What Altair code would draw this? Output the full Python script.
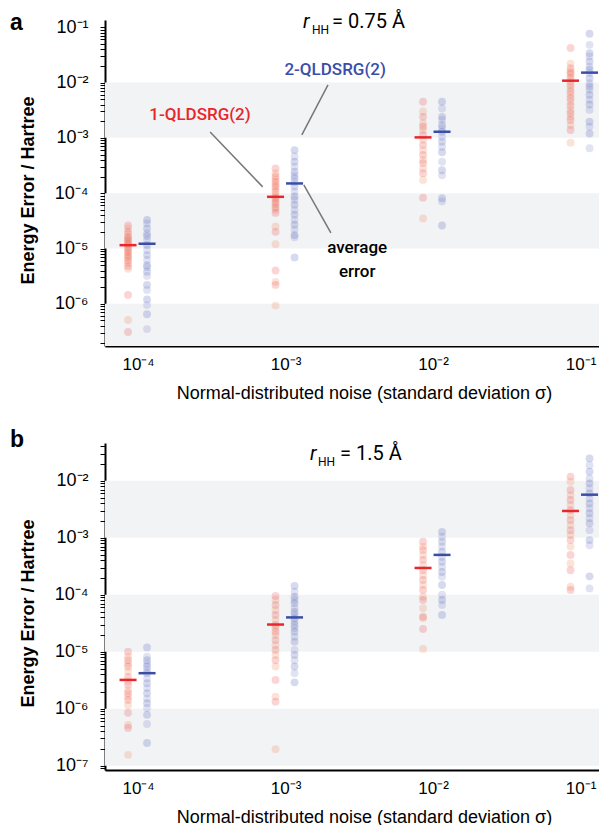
import altair as alt
import pandas as pd

# ---------------- data ----------------
SIGMA = [1e-4, 1e-3, 1e-2, 1e-1]

# panel a (r_HH = 0.75 A): individual errors per noise level
A_RED = [
    [2.6e-5, 2.3e-5, 2.0e-5, 1.8e-5, 1.6e-5, 1.5e-5, 1.4e-5, 1.3e-5, 1.2e-5, 1.1e-5, 1.0e-5,
     9.2e-6, 8.5e-6, 7.8e-6, 7.2e-6, 6.6e-6, 6.0e-6, 5.4e-6, 4.8e-6, 4.3e-6, 1.45e-6, 5.1e-7, 3.1e-7],
    [2.8e-4, 2.3e-4, 2.0e-4, 1.8e-4, 1.62e-4, 1.45e-4, 1.32e-4, 1.2e-4, 1.06e-4, 9.3e-5, 8.3e-5,
     7.6e-5, 6.8e-5, 6.2e-5, 5.5e-5, 5.0e-5, 4.4e-5, 2.5e-5, 2.0e-5, 1.2e-5, 4.0e-6, 2.5e-6, 2.2e-6, 9.3e-7],
    [4.5e-3, 3.0e-3, 2.4e-3, 1.84e-3, 1.6e-3, 1.39e-3, 1.13e-3, 9.2e-4, 7.4e-4, 6.0e-4, 4.9e-4,
     4.0e-4, 3.5e-4, 2.8e-4, 2.3e-4, 1.74e-4, 8.3e-5, 3.5e-5],
    [4.2e-2, 2.2e-2, 1.82e-2, 1.6e-2, 1.48e-2, 1.35e-2, 1.2e-2, 1.05e-2, 9.1e-3, 8.0e-3, 6.9e-3,
     6.0e-3, 5.2e-3, 4.5e-3, 3.8e-3, 3.2e-3, 2.8e-3, 2.4e-3, 2.1e-3, 1.7e-3, 1.39e-3, 8.2e-4],
]
A_BLUE = [
    [3.27e-5, 2.85e-5, 2.3e-5, 1.88e-5, 1.68e-5, 1.43e-5, 1.16e-5, 9.4e-6, 7.6e-6, 6.2e-6, 5.0e-6,
     4.6e-6, 3.8e-6, 3.2e-6, 2.2e-6, 1.78e-6, 1.2e-6, 9.5e-7, 6.5e-7, 3.5e-7],
    [6.0e-4, 4.6e-4, 3.7e-4, 3.0e-4, 2.45e-4, 2.1e-4, 1.86e-4, 1.6e-4, 1.32e-4, 1.07e-4, 8.7e-5,
     7.6e-5, 6.2e-5, 5.0e-5, 4.1e-5, 3.3e-5, 2.7e-5, 2.2e-5, 1.75e-5, 1.6e-5, 6.9e-6],
    [4.5e-3, 3.4e-3, 2.4e-3, 2.1e-3, 1.71e-3, 1.5e-3, 1.29e-3, 1.05e-3, 8.5e-4, 6.9e-4, 5.5e-4,
     3.7e-4, 2.6e-4, 2.1e-4, 8.1e-5, 7.1e-5, 2.6e-5],
    [7.6e-2, 4.8e-2, 3.4e-2, 2.95e-2, 2.4e-2, 1.94e-2, 1.7e-2, 1.48e-2, 1.2e-2, 9.7e-3, 8.5e-3,
     7.4e-3, 6.0e-3, 4.9e-3, 4.0e-3, 3.2e-3, 1.96e-3, 1.6e-3, 1.2e-3, 6.5e-4],
]
A_RED_AVG = [1.15e-5, 8.6e-5, 1.02e-3, 1.08e-2]
A_BLUE_AVG = [1.22e-5, 1.5e-4, 1.29e-3, 1.51e-2]

# panel b (r_HH = 1.5 A)
B_RED = [
    [1.0e-5, 8.2e-6, 7.1e-6, 6.2e-6, 5.5e-6, 4.5e-6, 3.6e-6, 3.0e-6, 2.6e-6, 2.1e-6, 1.87e-6,
     1.63e-6, 1.42e-6, 1.16e-6, 8.5e-7, 5.2e-7, 4.6e-7, 1.55e-7],
    [9.5e-5, 8.1e-5, 6.6e-5, 5.4e-5, 4.4e-5, 3.6e-5, 2.95e-5, 2.6e-5, 2.25e-5, 1.96e-5, 1.6e-5,
     1.31e-5, 1.07e-5, 8.8e-6, 7.1e-6, 5.5e-6, 3.2e-6, 1.63e-6, 1.33e-6, 1.95e-7],
    [8.5e-4, 7.0e-4, 6.1e-4, 5.0e-4, 4.1e-4, 3.3e-4, 2.7e-4, 2.2e-4, 1.81e-4, 1.48e-4, 1.21e-4,
     9.2e-5, 8.1e-5, 5.8e-5, 4.1e-5, 3.9e-5, 2.5e-5, 1.12e-5],
    [1.18e-2, 9.6e-3, 6.9e-3, 5.6e-3, 4.6e-3, 3.75e-3, 3.06e-3, 2.5e-3, 2.04e-3, 1.67e-3, 1.36e-3,
     1.12e-3, 9.1e-4, 7.0e-4, 5.0e-4, 3.55e-4, 2.7e-4, 1.38e-4, 1.21e-4],
]
B_BLUE = [
    [1.19e-5, 8.2e-6, 7.1e-6, 6.2e-6, 5.5e-6, 4.8e-6, 4.2e-6, 3.4e-6, 2.8e-6, 2.3e-6, 1.87e-6,
     1.5e-6, 1.25e-6, 1.03e-6, 7.8e-7, 5.4e-7, 2.5e-7],
    [1.42e-4, 1.13e-4, 9.2e-5, 8.1e-5, 7.1e-5, 5.8e-5, 5.0e-5, 4.4e-5, 3.85e-5, 3.4e-5, 2.95e-5,
     2.6e-5, 2.25e-5, 1.83e-5, 1.5e-5, 1.07e-5, 8.8e-6, 7.1e-6, 5.5e-6, 4.2e-6, 2.9e-6],
    [1.27e-3, 1.04e-3, 8.5e-4, 7.0e-4, 5.7e-4, 4.6e-4, 3.8e-4, 3.1e-4, 2.5e-4, 2.07e-4, 1.48e-4,
     1.0e-4, 8.1e-5, 6.6e-5, 4.4e-5],
    [2.47e-2, 1.88e-2, 1.44e-2, 1.1e-2, 9.0e-3, 7.4e-3, 6.0e-3, 4.9e-3, 4.0e-3, 3.3e-3, 2.7e-3,
     2.2e-3, 1.8e-3, 1.36e-3, 9.1e-4, 7.4e-4, 2.1e-4, 1.29e-4],
]
B_RED_AVG = [3.2e-6, 3.0e-5, 2.95e-4, 2.95e-3]
B_BLUE_AVG = [4.2e-6, 4.0e-5, 5.0e-4, 5.7e-3]

# shaded decade bands
BAND_LO = [1e-7, 1e-5, 1e-3]
BAND_HI = [1e-6, 1e-4, 1e-2]

# annotations of panel a
ANN_TEXT = ["1-QLDSRG(2)", "2-QLDSRG(2)", "average", "error"]
ANN_X = [2.63e-4, 2.17e-3, 3.06e-3, 3.06e-3]
ANN_Y = [2.6e-3, 1.69e-2, 1.03e-5, 3.78e-6]
PTR_X = [3.08e-4, 1.94e-3, 1.33e-3]
PTR_Y = [1.28e-3, 9.1e-3, 1.41e-4]
PTR_X2 = [7.0e-4, 1.29e-3, 2.03e-3]
PTR_Y2 = [1.3e-4, 1.13e-3, 1.91e-5]

# ---------------- style ----------------
RED = "#e8262b"
BLUE = "#3a4ea8"
RED_SHADES = ["#ec3a3f", "#f07a40"]
BLUE_SHADES = ["#3f4fb0", "#6f7cc6"]
BAND = "#f2f3f5"
W = 494
FONT = "Liberation Sans"

SUP = {"-": "\u207b", "0": "\u2070", "1": "\u00b9", "2": "\u00b2", "3": "\u00b3",
       "4": "\u2074", "5": "\u2075", "6": "\u2076", "7": "\u2077", "8": "\u2078", "9": "\u2079"}


def sup(n):
    return "".join(SUP[c] for c in str(n))


LOGE = "(log(datum.value)/LN10)"
chain = "".join(f"round({LOGE}) == {e} ? '10{sup(e)}' : " for e in range(-9, 1))
LABEL_EXPR = f"abs({LOGE} - round({LOGE})) > 0.001 ? '' : " + chain + "''"

XSCALE = alt.Scale(type="log", domain=[5.97e-5, 0.1334], nice=False)


def yticks(lo, hi):
    out = []
    for d in range(-9, 1):
        for k in range(1, 10):
            v = k * 10.0 ** d
            if lo <= v <= hi:
                out.append(v)
    return out


XAXIS = alt.Axis(values=SIGMA, labelExpr=LABEL_EXPR, ticks=False, tickSize=0, grid=False,
                 domainColor="black", domainWidth=2, labelFont=FONT, labelFontSize=17,
                 labelColor="black", labelPadding=10, labelOverlap=False, labelFlush=False,
                 title="Normal-distributed noise (standard deviation \u03c3)",
                 titleFont=FONT, titleFontSize=18, titleFontWeight="normal", titleColor="black",
                 titleX=259, titleY=47, titleBaseline="middle")


def panel(red, blue, red_avg, blue_avg, ydom, height, title_val, tpos, letter, letter_y, annotate):
    yscale = alt.Scale(type="log", domain=ydom, nice=False)
    yaxis = alt.Axis(values=yticks(*ydom), labelExpr=LABEL_EXPR, tickSize=5, tickColor="black",
                     tickWidth=1, grid=False, domainColor="black", domainWidth=2,
                     labelFont=FONT, labelFontSize=18, labelColor="black", labelPadding=12,
                     labelOverlap=False, labelFlush=False, labelBound=False,
                     title="Energy Error / Hartree", titleFont=FONT, titleFontSize=18,
                     titleFontWeight="bold", titleColor="black", titleX=-77, titleY=170,
                     titleAngle=270, titleBaseline="middle")

    def X(f):
        return alt.X(f, scale=XSCALE, axis=XAXIS)

    def Y(f):
        return alt.Y(f, scale=yscale, axis=yaxis)

    bands = alt.Chart(pd.DataFrame({"lo": BAND_LO, "hi": BAND_HI})).mark_rect(
        color=BAND, clip=True).encode(
        x=alt.value(0), x2=alt.value(W), y=Y("lo:Q"), y2="hi:Q")

    def pts(groups, shades, off):
        rows = []
        for s, vals in zip(SIGMA, groups):
            for i, v in enumerate(vals):
                rows.append({"sigma": s, "err": v, "col": shades[i % 2]})
        return alt.Chart(pd.DataFrame(rows)).mark_circle(size=62, opacity=0.21, xOffset=off).encode(
            x=X("sigma:Q"), y=Y("err:Q"), color=alt.Color("col:N", scale=None))

    def avg(vals, color, off):
        return alt.Chart(pd.DataFrame({"sigma": SIGMA, "err": vals})).mark_tick(
            orient="horizontal", size=17, thickness=2.5, color=color, opacity=1, xOffset=off).encode(
            x=X("sigma:Q"), y=Y("err:Q"))

    layers = [bands,
              pts(red, RED_SHADES, -10), pts(blue, BLUE_SHADES, 9),
              avg(red_avg, RED, -10), avg(blue_avg, BLUE, 9)]

    if annotate:
        layers.append(alt.Chart(pd.DataFrame({"x": PTR_X, "y": PTR_Y, "x2": PTR_X2, "y2": PTR_Y2}))
                      .mark_rule(color="#777777", strokeWidth=1.5).encode(
            x=X("x:Q"), y=Y("y:Q"), x2="x2:Q", y2="y2:Q"))
        ann = pd.DataFrame({"t": ANN_TEXT, "x": ANN_X, "y": ANN_Y,
                            "c": [RED, BLUE, "black", "black"]})
        layers.append(alt.Chart(ann).mark_text(font="Roboto", fontSize=17, fontWeight=500,
                                               baseline="middle", align="center").encode(
            x=X("x:Q"), y=Y("y:Q"), text="t:N", color=alt.Color("c:N", scale=None)))

    # title r_HH = ...
    rx, hx, ex, ty = tpos
    layers.append(alt.Chart(pd.DataFrame({"t": ["r"]})).mark_text(
        font="Roboto", fontSize=20, fontStyle="italic", align="left", baseline="top",
        color="black").encode(text="t:N", x=alt.value(rx), y=alt.value(ty)))
    layers.append(alt.Chart(pd.DataFrame({"t": ["HH"]})).mark_text(
        font="Roboto", fontSize=12, align="left", baseline="top",
        color="black").encode(text="t:N", x=alt.value(hx), y=alt.value(ty + 13)))
    layers.append(alt.Chart(pd.DataFrame({"t": [title_val]})).mark_text(
        font="Roboto", fontSize=20, align="left", baseline="top",
        color="black").encode(text="t:N", x=alt.value(ex), y=alt.value(ty)))
    layers.append(alt.Chart(pd.DataFrame({"t": [letter]})).mark_text(
        font=FONT, fontSize=23, fontWeight="bold", align="left", baseline="top",
        color="black").encode(text="t:N", x=alt.value(-95), y=alt.value(letter_y)))

    return alt.layer(*layers).properties(width=W, height=height)


top = panel(A_RED, A_BLUE, A_RED_AVG, A_BLUE_AVG, [1.73e-7, 0.135], 326,
            "= 0.75 \u00c5", (198, 207, 227, -8), "a", -8, True)
bottom = panel(B_RED, B_BLUE, B_RED_AVG, B_BLUE_AVG, [8.4e-8, 4.6e-2], 327,
               "= 1.5 \u00c5", (205, 213, 235, 1), "b", -14, False)

chart = alt.vconcat(top, bottom, spacing=97, bounds="flush").properties(
    padding={"left": 2, "top": 4, "right": 0, "bottom": 2}
).configure(font=FONT, view={"strokeWidth": 0, "stroke": "transparent"})

chart.save("out.html", embed_options={"renderer": "svg", "actions": False})
